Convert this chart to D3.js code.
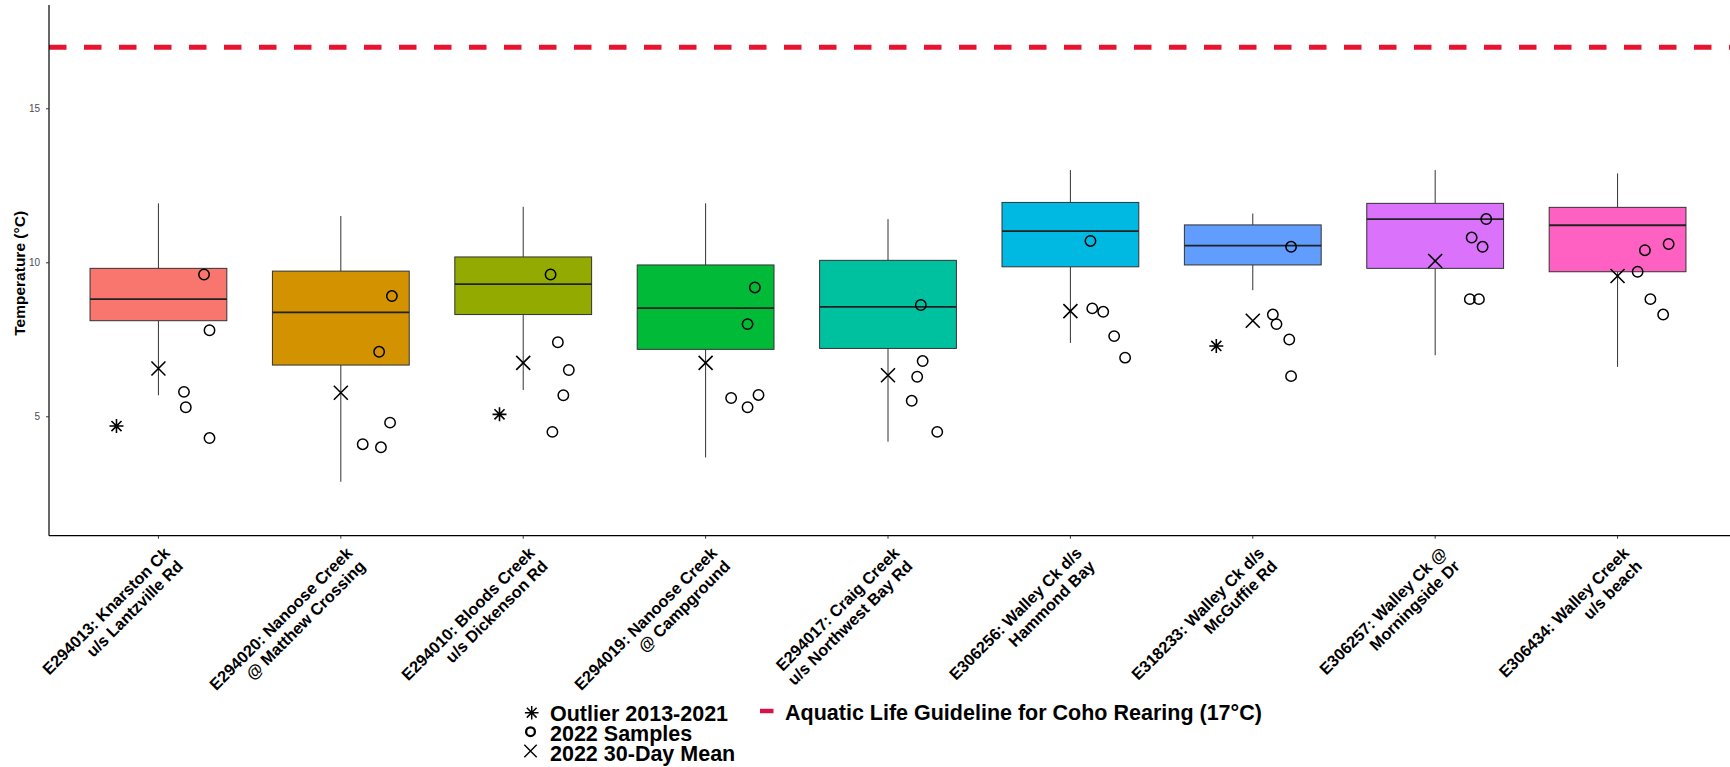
<!DOCTYPE html>
<html>
<head>
<meta charset="utf-8">
<script src="https://cdn.jsdelivr.net/npm/d3@7"></script>
<style>
  html, body { margin: 0; padding: 0; background: #fff; }
  svg { display: block; font-family: "Liberation Sans", Arial, sans-serif; }
</style>
</head>
<body>
<svg id="chart" width="1730" height="767"></svg>
<script>
// ---------------- data ----------------
const sites = [
  "E294013: Knarston Ck\nu/s Lantzville Rd",
  "E294020: Nanoose Creek\n@ Matthew Crossing",
  "E294010: Bloods Creek\nu/s Dickenson Rd",
  "E294019: Nanoose Creek\n@ Campground",
  "E294017: Craig Creek\nu/s Northwest Bay Rd",
  "E306256: Walley Ck d/s\nHammond Bay",
  "E318233: Walley Ck d/s\nMcGuffie Rd",
  "E306257: Walley Ck @\nMorningside Dr",
  "E306434: Walley Creek\nu/s beach"
];
const boxColors = ["#F8766D","#D39200","#93AA00","#00BA38","#00C19F","#00B9E3","#619CFF","#DB72FB","#FF61C3"];

const whiskerLow  = [5.70, 2.89, 5.87, 3.68, 4.19, 7.40, 9.11, 7.00, 6.62];
const q1          = [8.12, 6.68, 8.32, 7.19, 7.22, 9.87, 9.93, 9.82, 9.71];
const median      = [8.82, 8.39, 9.31, 8.53, 8.57, 11.03, 10.56, 11.42, 11.22];
const q3          = [9.82, 9.73, 10.19, 9.93, 10.08, 11.96, 11.23, 11.93, 11.80];
const whiskerHigh = [11.93, 11.52, 11.82, 11.93, 11.42, 13.01, 11.60, 13.01, 12.90];

const mean30Day = [6.57, 5.78, 6.75, 6.75, 6.35, 8.43, 8.12, 10.06, 9.57];

const samples2022 = [
  [9.62, 7.81, 5.81, 5.31, 4.31],
  [8.92, 7.11, 4.81, 4.11, 4.01],
  [9.62, 7.42, 6.52, 5.70, 4.51],
  [9.20, 8.01, 5.71, 5.61, 5.31],
  [8.63, 6.81, 6.30, 5.52, 4.51],
  [10.71, 8.52, 8.41, 7.62, 6.92],
  [10.52, 8.32, 8.01, 7.51, 6.32],
  [11.42, 10.82, 10.52, 8.82, 8.82],
  [10.61, 10.41, 9.71, 8.82, 8.32]
];
// horizontal jitter of sample points (fraction of category step)
const sampleJitter = [
  [0.25, 0.28, 0.14, 0.15, 0.28],
  [0.28, 0.21, 0.27, 0.12, 0.22],
  [0.15, 0.19, 0.25, 0.22, 0.16],
  [0.27, 0.23, 0.29, 0.14, 0.23],
  [0.18, 0.19, 0.16, 0.13, 0.27],
  [0.11, 0.12, 0.18, 0.24, 0.30],
  [0.21, 0.11, 0.13, 0.20, 0.21],
  [0.28, 0.20, 0.26, 0.19, 0.24],
  [0.28, 0.15, 0.11, 0.18, 0.25]
];

const outlierSite   = [0, 2, 6];
const outlierValue  = [4.70, 5.08, 7.30];
const outlierJitter = [-0.23, -0.13, -0.20];

const guideline = 17;
const yTicks = [5, 10, 15];

const legendLeft = ["Outlier 2013-2021", "2022 Samples", "2022 30-Day Mean"];
const legendRight = "Aquatic Life Guideline for Coho Rearing (17\u00B0C)";

// ---------------- layout ----------------
const panel = { left: 49, right: 1727, top: 5, bottom: 535.7 };
const svg = d3.select("#chart");

const x = d3.scalePoint().domain(d3.range(sites.length))
  .range([panel.left, panel.right]).padding(0.6);
const step = x.step();
const boxW = step * 0.75;
const y = d3.scaleLinear().domain([1.14, 18.37]).range([panel.bottom, panel.top]);

// guideline dashed line
svg.append("line")
  .attr("x1", panel.left).attr("x2", 1730)
  .attr("y1", y(guideline)).attr("y2", y(guideline))
  .attr("stroke", "#E8132F").attr("stroke-width", 5)
  .attr("stroke-dasharray", "17.5,17.5");

// boxes
const g = svg.append("g");
d3.range(sites.length).forEach(i => {
  const cx = x(i);
  g.append("line").attr("x1", cx).attr("x2", cx)
    .attr("y1", y(whiskerHigh[i])).attr("y2", y(q3[i]))
    .attr("stroke", "#333").attr("stroke-width", 1);
  g.append("line").attr("x1", cx).attr("x2", cx)
    .attr("y1", y(q1[i])).attr("y2", y(whiskerLow[i]))
    .attr("stroke", "#333").attr("stroke-width", 1);
  g.append("rect")
    .attr("x", cx - boxW / 2).attr("width", boxW)
    .attr("y", y(q3[i])).attr("height", y(q1[i]) - y(q3[i]))
    .attr("fill", boxColors[i]).attr("stroke", "#333").attr("stroke-width", 1);
  g.append("line")
    .attr("x1", cx - boxW / 2).attr("x2", cx + boxW / 2)
    .attr("y1", y(median[i])).attr("y2", y(median[i]))
    .attr("stroke", "#222").attr("stroke-width", 1.8);
});

// symbol helpers
function drawX(sel, cx, cy, h, sw) {
  sel.append("path")
    .attr("d", `M${cx-h},${cy-h}L${cx+h},${cy+h}M${cx-h},${cy+h}L${cx+h},${cy-h}`)
    .attr("stroke", "#000").attr("stroke-width", sw).attr("fill", "none");
}
function drawAsterisk(sel, cx, cy, h, sw) {
  const d = h * 0.72;
  sel.append("path")
    .attr("d", `M${cx},${cy-h}L${cx},${cy+h}M${cx-h},${cy}L${cx+h},${cy}` +
               `M${cx-d},${cy-d}L${cx+d},${cy+d}M${cx-d},${cy+d}L${cx+d},${cy-d}`)
    .attr("stroke", "#000").attr("stroke-width", sw).attr("fill", "none");
}

// 2022 samples
const pts = svg.append("g");
samples2022.forEach((vals, i) => {
  vals.forEach((v, k) => {
    pts.append("circle")
      .attr("cx", x(i) + sampleJitter[i][k] * step)
      .attr("cy", y(v)).attr("r", 5.2)
      .attr("fill", "none").attr("stroke", "#000").attr("stroke-width", 1.5);
  });
});
// 30-day mean
mean30Day.forEach((v, i) => drawX(pts, x(i), y(v), 7, 1.6));
// outliers
outlierSite.forEach((s, k) => drawAsterisk(pts, x(s) + outlierJitter[k] * step, y(outlierValue[k]), 7, 1.6));

// axes lines
svg.append("line").attr("x1", panel.left).attr("x2", panel.left)
  .attr("y1", panel.top).attr("y2", panel.bottom)
  .attr("stroke", "#000").attr("stroke-width", 1.2);
svg.append("line").attr("x1", panel.left).attr("x2", 1730)
  .attr("y1", panel.bottom).attr("y2", panel.bottom)
  .attr("stroke", "#000").attr("stroke-width", 1.2);

// y ticks
const yAxis = svg.append("g");
yTicks.forEach(t => {
  yAxis.append("line").attr("x1", panel.left - 3).attr("x2", panel.left)
    .attr("y1", y(t)).attr("y2", y(t)).attr("stroke", "#333").attr("stroke-width", 1);
  yAxis.append("text").attr("x", panel.left - 9).attr("y", y(t))
    .attr("dy", "0.35em").attr("text-anchor", "end")
    .attr("font-size", 10).attr("fill", "#4D4D4D").text(t);
});
svg.append("text")
  .attr("transform", `translate(20,${(panel.top + panel.bottom) / 2 + 3}) rotate(-90)`)
  .attr("text-anchor", "middle").attr("dy", "0.35em")
  .attr("font-size", 15.5).attr("font-weight", "bold").attr("fill", "#000")
  .text("Temperature (\u00B0C)");

// x ticks and labels
const xAxis = svg.append("g");
sites.forEach((s, i) => {
  const cx = x(i);
  xAxis.append("line").attr("x1", cx).attr("x2", cx)
    .attr("y1", panel.bottom).attr("y2", panel.bottom + 3)
    .attr("stroke", "#333").attr("stroke-width", 1);
  const lab = xAxis.append("text")
    .attr("transform", `translate(${cx + 4},${panel.bottom + 10}) rotate(-45)`)
    .attr("text-anchor", "end").attr("font-size", 16.3)
    .attr("font-weight", "bold").attr("fill", "#000");
  s.split("\n").forEach((line, li) => {
    lab.append("tspan").attr("x", 0).attr("y", 12 + li * 18.5).text(line);
  });
});

// legend
const leg = svg.append("g");
drawAsterisk(leg, 531.7, 712.7, 6.8, 1.5);
leg.append("circle").attr("cx", 530.5).attr("cy", 731.7).attr("r", 4.4)
  .attr("fill", "none").attr("stroke", "#000").attr("stroke-width", 2.3);
drawX(leg, 530.5, 751, 6.2, 1.4);
const legText = leg.append("text")
  .attr("font-size", 21.5).attr("font-weight", "bold").attr("fill", "#000");
legendLeft.forEach((t, k) => {
  legText.append("tspan").attr("x", 550).attr("y", 720.7 + k * 19.9).text(t);
});
leg.append("line").attr("x1", 760).attr("x2", 773.5).attr("y1", 711).attr("y2", 711)
  .attr("stroke", "#D6144A").attr("stroke-width", 4.5);
leg.append("text").attr("x", 785).attr("y", 719.5)
  .attr("font-size", 21.5).attr("font-weight", "bold").attr("fill", "#000").text(legendRight);
</script>
</body>
</html>
